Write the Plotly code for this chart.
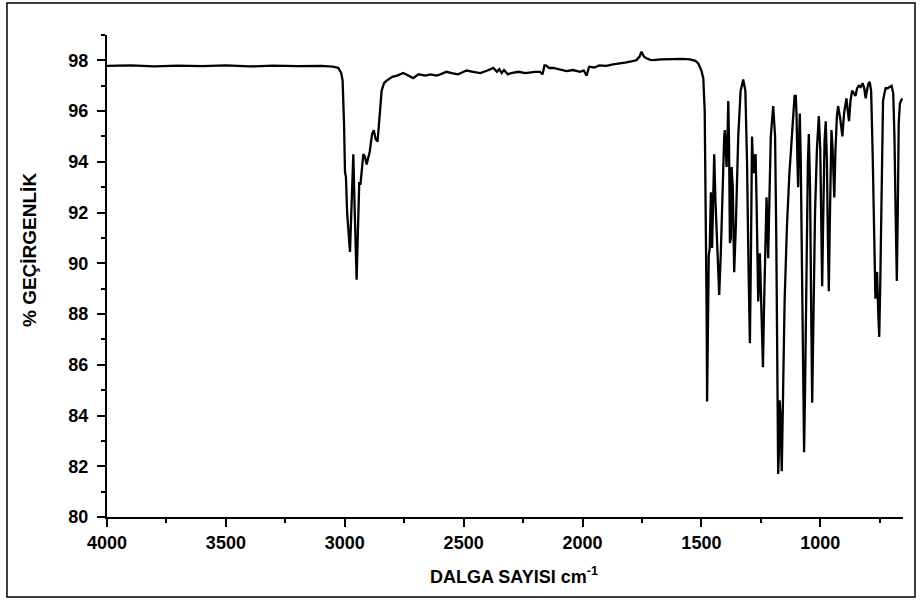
import plotly.graph_objects as go

wavenumber = [4000, 3900, 3800, 3700, 3600, 3500, 3400, 3300, 3200, 3100, 3050, 3027, 3015, 3009, 3003, 2999, 2995, 2990, 2978, 2970, 2964, 2958, 2950, 2944, 2939, 2934, 2922, 2915, 2908, 2895, 2885, 2878, 2870, 2862, 2855, 2845, 2835, 2824, 2800, 2780, 2754, 2730, 2712, 2690, 2660, 2640, 2614, 2598, 2572, 2550, 2523, 2500, 2487, 2460, 2430, 2400, 2375, 2360, 2350, 2340, 2330, 2314, 2300, 2270, 2240, 2200, 2179, 2168, 2160, 2154, 2140, 2123, 2100, 2067, 2040, 2010, 1995, 1983, 1972, 1950, 1930, 1900, 1871, 1840, 1815, 1790, 1773, 1760, 1752, 1742, 1731, 1715, 1703, 1670, 1640, 1619, 1580, 1548, 1525, 1513, 1500, 1492, 1486, 1482, 1478, 1476, 1472, 1469, 1465, 1460, 1455, 1450, 1446, 1441, 1436, 1430, 1425, 1418, 1410, 1404, 1401, 1398, 1394, 1390, 1387, 1384, 1380, 1376, 1373, 1368, 1365, 1362, 1355, 1345, 1335, 1324, 1315, 1308, 1302, 1296, 1292, 1287, 1283, 1280, 1276, 1272, 1268, 1264, 1261, 1257, 1254, 1250, 1245, 1241, 1236, 1230, 1226, 1222, 1219, 1214, 1208, 1198, 1190, 1185, 1180, 1177, 1174, 1171, 1167, 1165, 1162, 1158, 1150, 1140, 1130, 1118, 1108, 1103, 1100, 1096, 1093, 1090, 1086, 1082, 1077, 1072, 1068, 1064, 1058, 1052, 1048, 1043, 1038, 1034, 1030, 1022, 1014, 1006, 1000, 996, 992, 988, 982, 977, 972, 968, 964, 960, 956, 953, 948, 944, 941, 936, 930, 925, 916, 907, 900, 890, 884, 879, 873, 866, 858, 852, 845, 838, 830, 822, 815, 809, 802, 797, 792, 786, 780, 775, 770, 768, 765, 761, 756, 752, 748, 743, 738, 736, 730, 725, 717, 708, 700, 693, 688, 683, 678, 674, 670, 665, 660, 656]

transmittance = [97.78, 97.8, 97.76, 97.79, 97.77, 97.8, 97.76, 97.79, 97.77, 97.78, 97.75, 97.7, 97.5, 97.2, 95.5, 93.6, 93.4, 92.0, 90.45, 92.5, 94.3, 92.0, 89.35, 91.5, 93.2, 93.1, 94.3, 94.2, 93.9, 94.4, 95.1, 95.25, 94.9, 94.8, 95.8, 96.8, 97.1, 97.2, 97.35, 97.4, 97.5, 97.4, 97.3, 97.45, 97.4, 97.45, 97.4, 97.45, 97.55, 97.5, 97.45, 97.55, 97.6, 97.55, 97.5, 97.6, 97.7, 97.55, 97.65, 97.5, 97.62, 97.45, 97.5, 97.55, 97.5, 97.55, 97.55, 97.45, 97.8, 97.8, 97.7, 97.7, 97.65, 97.58, 97.62, 97.55, 97.6, 97.4, 97.75, 97.72, 97.8, 97.78, 97.84, 97.87, 97.92, 97.97, 98.01, 98.15, 98.34, 98.15, 98.08, 98.02, 98.01, 98.04, 98.06, 98.05, 98.06, 98.04, 97.98, 97.88, 97.6, 97.3, 96.0, 93.0, 88.0, 84.55, 88.0, 90.3, 90.6, 92.8, 90.6, 92.5, 94.3, 92.5, 91.2, 89.5, 88.75, 90.5, 93.5, 95.0, 95.25, 94.8, 93.8, 95.0, 96.4, 95.0, 90.8, 91.0, 93.8, 93.0, 90.0, 89.65, 91.5, 95.0, 96.8, 97.25, 96.8, 94.0, 90.0, 86.85, 90.0, 95.0, 94.0, 93.55, 94.2, 94.3, 92.5, 90.0, 88.5, 89.5, 90.4, 89.0, 87.0, 85.9, 88.5, 91.5, 92.6, 91.5, 90.2, 92.5, 95.0, 96.2, 95.0, 91.0, 85.0, 81.7, 82.5, 84.6, 84.0, 82.5, 81.8, 84.0, 88.5, 91.5, 93.5, 95.2, 96.6, 96.6, 95.9, 94.0, 93.0, 94.5, 95.9, 94.0, 90.0, 85.0, 82.55, 85.0, 91.0, 94.0, 95.1, 93.0, 88.0, 84.5, 87.0, 92.0, 94.5, 95.8, 94.5, 91.5, 89.1, 91.5, 94.8, 95.6, 94.0, 91.0, 88.9, 91.5, 94.5, 95.25, 94.5, 93.0, 92.6, 94.5, 95.8, 96.2, 95.7, 95.0, 95.9, 96.5, 96.0, 95.6, 96.4, 96.8, 96.7, 96.6, 96.9, 97.0, 96.95, 97.1, 96.9, 96.5, 96.9, 97.1, 97.15, 96.8, 94.5, 91.5, 88.8, 88.6, 89.6, 89.65, 88.0, 87.1, 89.0, 93.0, 96.0, 96.4, 96.7, 96.9, 96.9, 96.95, 97.0, 96.7, 95.0, 92.0, 89.3, 92.0, 95.5, 96.3, 96.4, 96.5]

x_ticks = [4000, 3500, 3000, 2500, 2000, 1500, 1000]
y_ticks = [80, 82, 84, 86, 88, 90, 92, 94, 96, 98]
x_title = "DALGA SAYISI cm<sup>-1</sup>"
y_title = "% GEÇİRGENLİK"

FONT = "Liberation Sans, Arial, sans-serif"
W, H = 921, 603
L, R, T, B = 107, 18, 35, 86
PW, PH = W - L - R, H - T - B


def px_x(p):
    return (p - L) / PW


def px_y(p):
    return (H - B - p) / PH


fig = go.Figure()
fig.add_trace(go.Scatter(
    x=wavenumber, y=transmittance, mode="lines",
    line=dict(color="black", width=2.3),
    showlegend=False, hoverinfo="skip",
))

axis_common = dict(
    showgrid=False, zeroline=False, showline=True, linecolor="black", linewidth=2,
    ticks="outside", ticklen=8, tickwidth=2, tickcolor="black",
    tickfont=dict(family=FONT, size=18, color="black", weight="bold"),
)

fig.update_xaxes(
    range=[4000, 652], tickvals=x_ticks, ticktext=[str(v) for v in x_ticks],
    minor=dict(dtick=250, ticks="outside", ticklen=4, tickwidth=2, tickcolor="black", tick0=0),
    ticklabelstandoff=0,
    **axis_common,
)
fig.update_yaxes(
    range=[80, 99], tickvals=y_ticks, ticktext=[str(v) for v in y_ticks],
    minor=dict(dtick=1, ticks="outside", ticklen=4, tickwidth=2, tickcolor="black", tick0=0),
    ticklabelstandoff=5,
    **axis_common,
)

fig.add_annotation(text=f"<b>{x_title}</b>", xref="paper", yref="paper",
                   x=px_x(514), y=px_y(575), showarrow=False,
                   font=dict(family=FONT, size=18, color="black"),
                   xanchor="center", yanchor="middle")
fig.add_annotation(text=f"<b>{y_title}</b>", xref="paper", yref="paper",
                   x=px_x(30), y=px_y(250), showarrow=False, textangle=-90,
                   font=dict(family=FONT, size=19, color="black"),
                   xanchor="center", yanchor="middle")

fig.add_shape(type="rect", xref="paper", yref="paper",
              x0=px_x(7), x1=px_x(915), y0=px_y(597), y1=px_y(3),
              line=dict(color="black", width=1.5), fillcolor="rgba(0,0,0,0)")

fig.update_layout(
    width=W, height=H,
    margin=dict(l=L, r=R, t=T, b=B),
    paper_bgcolor="white", plot_bgcolor="white",
    font=dict(family=FONT, color="black"),
)

fig.write_html("out.html", config={"displayModeBar": False},
               post_script="document.body.style.margin='0';document.body.style.overflow='hidden';")
